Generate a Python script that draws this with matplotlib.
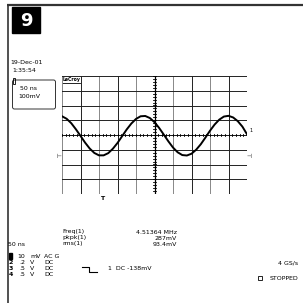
import matplotlib
matplotlib.use("Agg")
import matplotlib.pyplot as plt
import numpy as np
from matplotlib.patches import FancyBboxPatch, Rectangle

trace_x_start = -5.0
trace_dx = 0.25
trace_y = [1.27, 1.10, 0.80, 0.39, -0.06, -0.52, -0.92, -1.22, -1.38, -1.38,
           -1.23, -0.93, -0.54, -0.08, 0.38, 0.78, 1.09, 1.27, 1.29, 1.15,
           0.87, 0.48, 0.03, -0.43, -0.85, -1.17, -1.36, -1.39, -1.27, -1.00,
           -0.63, -0.18, 0.29, 0.71, 1.04, 1.25, 1.30, 1.19, 0.94, 0.57, 0.05]
meas_names = ["Freq(1)", "pkpk(1)", "rms(1)"]
meas_values = ["4.51364 MHz", "287mV", "93.4mV"]
ch_nums = ["1", "2", "3", "4"]
ch_scale = ["10", ".2", ".5", ".5"]
ch_unit = ["mV", "V", "V", "V"]
ch_coupling = ["AC G", "DC", "DC", "DC"]
date_lines = ["19-Dec-01", "1:35:54"]
timebase = "50 ns"
zoom_lines = ["50 ns", "100mV"]
trigger_text = "1  DC -138mV"
sample_rate = "4 GS/s"
status = "STOPPED"
screen_no = "9"

W = H = 303
fig = plt.figure(figsize=(3.03, 3.03), dpi=100)
fig.patch.set_facecolor("white")

# overlay in pixel coords
ov = fig.add_axes([0, 0, 1, 1])
ov.set_xlim(0, W)
ov.set_ylim(H, 0)
ov.axis("off")

FS = 4.5
fam = "DejaVu Sans"

# frame
ov.plot([7, 303], [4.5, 4.5], color="#333333", lw=1.6, solid_capstyle="butt")
ov.plot([7.5, 7.5], [4, 303], color="#333333", lw=1.2, solid_capstyle="butt")

# screen number block
ov.add_patch(Rectangle((12, 7), 28, 26, color="black"))
ov.text(26, 20.5, screen_no, color="white", fontsize=13, fontweight="bold",
        ha="center", va="center", family=fam)

# date
ov.text(10, 63, date_lines[0], fontsize=FS, family=fam, va="center")
ov.text(12, 70, date_lines[1], fontsize=FS, family=fam, va="center")

# zoom box
ov.add_patch(FancyBboxPatch((12.5, 80), 43, 29, boxstyle="round,pad=0,rounding_size=2",
                            fill=False, ec="#333333", lw=0.7))
ov.add_patch(Rectangle((13, 78), 2, 6, fill=False, ec="black", lw=0.6))
ov.text(20, 89, zoom_lines[0], fontsize=FS, family=fam, va="center")
ov.text(18, 96, zoom_lines[1], fontsize=FS, family=fam, va="center")

# grid axes
gx0, gx1, gy0, gy1 = 62, 247, 76, 194
ax = fig.add_axes([gx0 / W, 1 - gy1 / H, (gx1 - gx0) / W, (gy1 - gy0) / H])
ax.set_xlim(-5, 5)
ax.set_ylim(-4, 4)
ax.axis("off")
for i in range(-5, 6):
    c = "#222222" if i % 2 == 0 else "#888888"
    ax.axvline(i, color=c, lw=0.7, zorder=1)
for j in range(-4, 5):
    ax.axhline(j, color="#222222", lw=0.7, zorder=1)
ax.axvline(0, color="black", lw=0.9, zorder=2)
# center ticks
for t in np.arange(-5, 5.01, 0.2):
    ax.plot([t, t], [-0.1, 0.1], color="black", lw=0.6, zorder=2)
for t in np.arange(-4, 4.01, 0.2):
    ax.plot([-0.1, 0.1], [t, t], color="black", lw=0.6, zorder=2)
ax.axhline(0, color="black", lw=0.5, ls=(0, (1, 1)), zorder=2)

xs = trace_x_start + trace_dx * np.arange(len(trace_y))
ax.plot(xs, trace_y, color="black", lw=1.4, zorder=3)

# LeCroy label
ov.text(63, 80, "LeCroy", fontsize=3.3, family=fam, va="center", fontweight="bold")
ov.plot([62, 80], [82.5, 82.5], color="black", lw=0.6)

# markers
ov.text(59, 156, "\u22a2", fontsize=4, va="center", ha="center", family=fam)
ov.text(249, 156, "\u22a3", fontsize=4, va="center", ha="center", family=fam)
ov.text(249, 131, "1", fontsize=3.5, va="center", ha="left", family=fam)
ov.text(102, 198, "T", fontsize=4.5, va="center", ha="center", family=fam, fontweight="bold")

# measurements
for k, (n, v) in enumerate(zip(meas_names, meas_values)):
    y = 232 + 6 * k
    ov.text(62, y, n, fontsize=FS, family=fam, va="center")
    ov.text(177, y, v, fontsize=FS, family=fam, va="center", ha="right")

ov.text(8, 244, timebase, fontsize=FS, family=fam, va="center")
for k in range(4):
    y = 256 + 6 * k
    if k == 0:
        ov.add_patch(Rectangle((9, y - 2.8), 3, 5.6, color="black"))
    else:
        ov.text(10.5, y, ch_nums[k], fontsize=FS, family=fam, va="center", ha="center",
                fontweight="bold")
    ov.text(25, y, ch_scale[k], fontsize=FS, family=fam, va="center", ha="right")
    ov.text(30, y, ch_unit[k], fontsize=FS, family=fam, va="center")
    ov.text(44, y, ch_coupling[k], fontsize=FS, family=fam, va="center")

# trigger symbol
ov.plot([82, 89, 89, 97], [266.5, 266.5, 271.5, 271.5], color="black", lw=0.8)
ov.text(108, 268, trigger_text, fontsize=FS, family=fam, va="center")

ov.text(298, 263, sample_rate, fontsize=FS, family=fam, va="center", ha="right")
ov.add_patch(Rectangle((258, 276), 4, 4, fill=False, ec="black", lw=0.6))
ov.text(270, 278, status, fontsize=FS, family=fam, va="center")

fig.savefig("out.png", dpi=100, facecolor="white")
